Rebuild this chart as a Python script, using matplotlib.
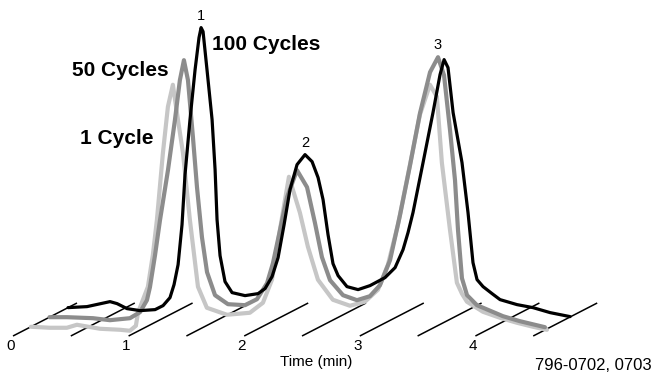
import matplotlib.pyplot as plt

# retention time (min) and detector response, one run per cycle count
t_1cyc = [0, 0.164, 0.311, 0.398, 0.597, 0.770, 0.856, 0.908, 0.926, 1.012, 1.055, 1.090,
          1.142, 1.185, 1.228, 1.272, 1.315, 1.375, 1.445, 1.522, 1.696, 1.894, 2.007,
          2.085, 2.154, 2.232, 2.327, 2.396, 2.483, 2.612, 2.760, 2.889, 3.002, 3.088,
          3.175, 3.279, 3.365, 3.452, 3.512, 3.555, 3.625, 3.685, 3.729, 3.772, 3.910,
          4.057, 4.204, 4.343, 4.464]
h_1cyc = [0, -1, -1, 2, -2, -3, -4, 1, 14, 40, 72, 107,
          174, 220, 242, 207, 174, 107, 40, 19, 12, 14, 24,
          47, 97, 150, 114, 80, 47, 27, 21, 25, 37, 62,
          102, 162, 212, 242, 230, 164, 97, 44, 33, 25, 15,
          9, 4, 0, -3]

t_50cyc = [0, 0.151, 0.376, 0.523, 0.696, 0.783, 0.843, 0.869, 0.913, 0.956, 1.025, 1.085,
           1.128, 1.163, 1.198, 1.241, 1.276, 1.319, 1.363, 1.432, 1.544, 1.691, 1.795,
           1.882, 1.933, 1.994, 2.055, 2.141, 2.228, 2.297, 2.357, 2.427, 2.539, 2.660,
           2.772, 2.859, 2.946, 3.032, 3.119, 3.205, 3.292, 3.361, 3.413, 3.465, 3.508,
           3.534, 3.568, 3.612, 3.698, 3.923, 4.070, 4.286]
h_50cyc = [0, 0, -1, -3, -1, 5, 17, 30, 62, 97, 147, 197,
           237, 257, 237, 180, 130, 80, 45, 22, 13, 12, 18,
           34, 54, 87, 120, 147, 130, 94, 60, 37, 22, 17,
           21, 32, 57, 102, 152, 204, 245, 260, 242, 187, 137,
           87, 39, 22, 12, 1, -4, -10]

t_100cyc = [0, 0.164, 0.363, 0.424, 0.510, 0.623, 0.753, 0.822, 0.882, 0.917, 0.952, 0.986,
            1.012, 1.055, 1.099, 1.133, 1.151, 1.168, 1.202, 1.246, 1.272, 1.289, 1.315,
            1.358, 1.419, 1.531, 1.644, 1.704, 1.765, 1.817, 1.869, 1.920, 1.981, 2.050,
            2.111, 2.163, 2.206, 2.249, 2.292, 2.336, 2.413, 2.509, 2.612, 2.742, 2.829,
            2.898, 2.941, 2.984, 3.071, 3.157, 3.218, 3.253, 3.287, 3.331, 3.408, 3.460,
            3.503, 3.538, 3.590, 3.668, 3.737, 3.884, 4.022, 4.170, 4.343]
h_100cyc = [0, 1, 6, 4, -1, -3, -2, 2, 10, 23, 43, 83,
            133, 188, 238, 270, 280, 276, 238, 188, 138, 88, 52,
            26, 15, 12, 14, 19, 31, 50, 83, 118, 143, 153,
            146, 130, 108, 73, 44, 32, 21, 18, 22, 30, 40,
            58, 75, 95, 145, 195, 233, 248, 240, 195, 145, 95,
            45, 28, 21, 14, 8, 3, 0, -5, -9]

runs = ['1 Cycle', '50 Cycles', '100 Cycles']
depths = [0.28, 0.57, 0.86]
colors = ['#c6c6c6', '#8c8c8c', '#000000']
widths = [3.0, 3.0, 2.3]

grid_times = [0, 0.5, 1, 1.5, 2, 2.5, 3, 3.5, 4, 4.5]
tick_times = [0, 1, 2, 3, 4]
tick_labels = ['0', '1', '2', '3', '4']

# peak numbers: (time, height, depth) of the peak top they sit on
peak_names = ['1', '2', '3']
peak_t = [1.151, 2.050, 3.361]
peak_h = [280, 153, 260]
peak_d = [0.86, 0.86, 0.57]


def proj(t, h, d):
    # simple oblique projection to pixel coordinates
    x = 13 + 115.6 * t + 64 * d
    y = 336 - 33 * d - h
    return x, y


fig = plt.figure(figsize=(6.56, 3.83), dpi=100)
ax = fig.add_axes([0, 0, 1, 1])
ax.set_xlim(0, 656)
ax.set_ylim(383, 0)
ax.axis('off')

sans = 'Liberation Sans'

for g in grid_times:
    x0, y0 = proj(g, 0, 0)
    x1, y1 = proj(g, 0, 1)
    ax.plot([x0, x1], [y0, y1], color='black', lw=1.1, solid_capstyle='butt')

data = [(t_1cyc, h_1cyc), (t_50cyc, h_50cyc), (t_100cyc, h_100cyc)]
for (tt, hh), d, c, w in zip(data, depths, colors, widths):
    xs, ys = [], []
    for a, b in zip(tt, hh):
        x, y = proj(a, b, d)
        xs.append(x)
        ys.append(y)
    ax.plot(xs, ys, color=c, lw=w, solid_joinstyle='round', solid_capstyle='round')

for tm, lab in zip(tick_times, tick_labels):
    x, y = proj(tm, 0, 0)
    ax.text(x - 2.5, 346, lab, ha='center', va='center', fontsize=11, family=sans)

for name, a, b, d in zip(peak_names, peak_t, peak_h, peak_d):
    x, y = proj(a, b, d)
    ax.text(x, y - 12, name, ha='center', va='center', fontsize=10.5, family=sans)

ax.text(212, 45, runs[2], ha='left', va='center', fontsize=15, fontweight='bold', family=sans)
ax.text(72, 70, runs[1], ha='left', va='center', fontsize=15, fontweight='bold', family=sans)
ax.text(80, 139, runs[0], ha='left', va='center', fontsize=15, fontweight='bold', family=sans)

ax.text(316, 362, 'Time (min)', ha='center', va='center', fontsize=11, family=sans)
ax.text(652, 366, '796-0702, 0703', ha='right', va='center', fontsize=12, family=sans)

fig.savefig('out.png', dpi=100)
